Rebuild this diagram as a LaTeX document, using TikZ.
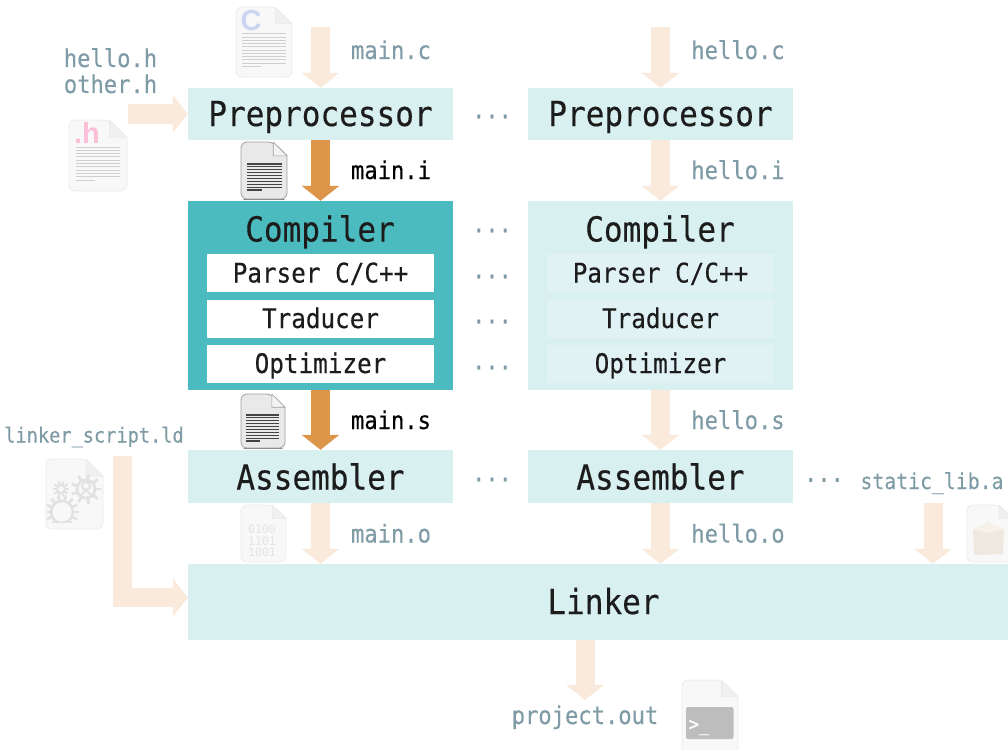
\documentclass[tikz,border=0pt]{standalone}
\usepackage{fontspec}
\usetikzlibrary{arrows.meta}
\newfontfamily\monof[FakeStretch=0.9,FakeBold=0.3]{DejaVu Sans Mono}
\newfontfamily\binf{DejaVu Sans Mono}
\newfontfamily\iconf{Liberation Sans}
\definecolor{boxlight}{HTML}{D9F0F1}
\definecolor{boxteal}{HTML}{4BBBBF}
\definecolor{sublight}{HTML}{E1F2F5}
\definecolor{arrlight}{HTML}{FAEADC}
\definecolor{arrdark}{HTML}{DC9549}
\definecolor{slate}{HTML}{7F9BA6}
\definecolor{ink}{HTML}{1C1C1C}
\definecolor{pfill}{HTML}{F8F8F8}
\definecolor{pedge}{HTML}{EBEBEB}
\definecolor{pfold}{HTML}{F0F0F0}
\definecolor{dfill}{HTML}{E9E9E9}
\definecolor{dedge}{HTML}{A0A0A0}
\definecolor{dfold}{HTML}{F3F3F3}
\definecolor{dbase}{HTML}{8C8C8C}
\definecolor{dline}{HTML}{444444}
\definecolor{pline}{HTML}{CFCFCF}
\definecolor{cblue}{HTML}{CCD5F0}
\definecolor{hpink}{HTML}{FBBFD8}
\definecolor{ptext}{HTML}{E4E4E4}
\definecolor{gearc}{HTML}{E2E2E2}
\definecolor{carton}{HTML}{EEE8DE}
\definecolor{cartonlt}{HTML}{F6F2EA}
\definecolor{term}{HTML}{BDBDBD}
\newcommand{\fsz}[1]{\monof\fontsize{#1}{#1}\selectfont}
% x0 y0 x1 y1 fill edge foldfill
\newcommand{\docicon}[7]{%
  \pgfmathsetmacro{\foldw}{0.3*(#3-#1)}%
  \draw[fill=#5,draw=#6,line width=0.8pt,rounded corners=6pt]
    (#1,#4) -- (#1,#2) -- (#3-\foldw,#2) [sharp corners] -- (#3,#2+\foldw) [rounded corners=6pt] -- (#3,#4) -- cycle;
  \draw[fill=#7,draw=#6,line width=0.6pt,line join=round]
    (#3-\foldw,#2) -- (#3,#2+\foldw) -- (#3-\foldw,#2+\foldw) -- cycle;
}
% x0 x1 xshort y0 y1 n colour width
\newcommand{\doclines}[8]{%
  \pgfmathsetmacro{\lstep}{(#5-#4)/(#6-1)}%
  \pgfmathtruncatemacro{\lastl}{#6-2}%
  \foreach \li in {0,...,\lastl}{\draw[#7,line width=#8pt] (#1,#4+\li*\lstep) -- (#2,#4+\li*\lstep);}
  \draw[#7,line width=#8pt] (#1,#5) -- (#3,#5);
}
% cx cy ring-radius tooth-outer-radius ring-width teeth
\newcommand{\geardraw}[6]{%
  \draw[gearc,line width=#5pt] (#1,#2) circle (#3);
  \pgfmathsetmacro{\gstep}{360/#6}%
  \foreach \ga in {0,\gstep,...,359}{\draw[gearc,line width=#5pt] (#1,#2) ++(\ga:#3) -- ++(\ga:#4-#3);}
}
\tikzset{
  box/.style={inner sep=0pt,text height=24pt,text depth=0pt,text=ink,align=center,font=\fsz{34.5}},
  boxasm/.style={box,text height=26pt},
  subbox/.style={inner sep=0pt,text height=19pt,text depth=0pt,text=ink,align=center,font=\fsz{27},minimum width=227pt,minimum height=38pt},
  lab/.style={anchor=base,inner sep=0pt,text=slate,font=\fsz{24.6}},
  labdark/.style={lab,text=black},
  dotsn/.style={lab},
  fat/.style={line width=19pt,arrlight,-{Triangle[width=37pt,length=15pt]}},
  fatdark/.style={fat,arrdark},
}
\begin{document}
\begin{tikzpicture}[x=1pt,y=-1pt]
\useasboundingbox (0,0) rectangle (1008,749);
\clip (0,0) rectangle (1008,749);
% column 1
\node[box,fill=boxlight,minimum width=265pt,minimum height=52pt] (pre1) at (320.5,114) {Preprocessor};
\node[fill=boxteal,inner sep=0pt,minimum width=265pt,minimum height=189pt] (comp1) at (320.5,295.5) {};
\node[lab,text=ink,font=\fsz{34.5}] (comptitle1) at (320,241.5) {Compiler};
\node[subbox,fill=white] (parse1) at (320.5,273) {Parser C/C++};
\node[subbox,fill=white] (trad1) at (320.5,318.5) {Traducer};
\node[subbox,fill=white] (opt1) at (320.5,363.5) {Optimizer};
\node[boxasm,fill=boxlight,minimum width=265pt,minimum height=53pt] (asm1) at (320.5,476.5) {Assembler};
% column 2
\node[box,fill=boxlight,minimum width=265pt,minimum height=52pt] (pre2) at (660.5,114) {Preprocessor};
\node[fill=boxlight,inner sep=0pt,minimum width=265pt,minimum height=189pt] (comp2) at (660.5,295.5) {};
\node[lab,text=ink,font=\fsz{34.5}] (comptitle2) at (660,241.5) {Compiler};
\node[subbox,fill=sublight] (parse2) at (660.5,273) {Parser C/C++};
\node[subbox,fill=sublight] (trad2) at (660.5,318.5) {Traducer};
\node[subbox,fill=sublight] (opt2) at (660.5,363.5) {Optimizer};
\node[boxasm,fill=boxlight,minimum width=265pt,minimum height=53pt] (asm2) at (660.5,476.5) {Assembler};
% linker
\node[box,fill=boxlight,minimum width=820pt,minimum height=76pt] (linker) at (598,602) {};
\node[lab,text=ink,font=\fsz{34.5}] (linkertext) at (603.5,614) {Linker};
% dots
\node[dotsn] (d1) at (492,125) {···};
\node[dotsn] (d2) at (492,239) {···};
\node[dotsn] (d3) at (492,285) {···};
\node[dotsn] (d4) at (492,330) {···};
\node[dotsn] (d5) at (492,376) {···};
\node[dotsn] (d6) at (492,488) {···};
\node[dotsn] (d7) at (824,488.5) {···};
% labels
\node[lab] (lmainc) at (391,59) {main.c};
\node[lab] (lhelloc) at (738,59) {hello.c};
\node[lab] (lhelloh) at (110.5,67) {hello.h};
\node[lab] (lotherh) at (110.5,93) {other.h};
\node[labdark] (lmaini) at (391,179) {main.i};
\node[lab] (lhelloi) at (738,179) {hello.i};
\node[labdark] (lmains) at (391,429) {main.s};
\node[lab] (lhellos) at (738,429) {hello.s};
\node[lab] (lmaino) at (391,542.5) {main.o};
\node[lab] (lhelloo) at (738,542.5) {hello.o};
\node[lab,font=\fsz{20.7}] (lscript) at (94,442.5) {linker\_script.ld};
\node[lab,font=\fsz{22}] (lstatic) at (932,489) {static\_lib.a};
\node[lab] (lproj) at (585,724) {project.out};
% connector ends
\coordinate (srcc1) at (320.5,27);
\coordinate (srcc2) at (660.5,27);
\coordinate (srch) at (128,114);
\coordinate (srcld) at (122,456);
\coordinate (inld) at (188,597.5);
\coordinate (srclib) at (933,503);
\coordinate (outp) at (585,700);
% connectors
\draw[fat] (srcc1) -- (pre1.north);
\draw[fat] (srcc2) -- (pre2.north);
\draw[fat] (srch) -- (pre1.west);
\draw[fatdark] (pre1.south) -- (comp1.north);
\draw[fat] (pre2.south) -- (comp2.north);
\draw[fatdark] (comp1.south) -- (asm1.north);
\draw[fat] (comp2.south) -- (asm2.north);
\draw[fat] (asm1.south) -- (asm1.south |- linker.north);
\draw[fat] (asm2.south) -- (asm2.south |- linker.north);
\draw[fat] (srclib) -- (srclib |- linker.north);
\draw[fat] (srcld) |- (inld);
\draw[fat] (outp |- linker.south) -- (outp);
% icon: C source
\docicon{236}{7}{292}{77}{pfill}{pedge}{pfold}
\doclines{242}{286}{261}{34}{66.5}{11}{pline}{1}
\node[inner sep=0pt,text=cblue,font=\iconf\bfseries\fontsize{29}{29}\selectfont] (iconc) at (251,20.5) {C};
% icon: header
\docicon{69}{120}{127}{191}{pfill}{pedge}{pfold}
\doclines{76}{120}{95}{147}{180}{11}{pline}{1}
\node[inner sep=0pt,text=hpink,font=\iconf\bfseries\fontsize{29}{29}\selectfont] (iconh) at (87,133) {.h};
% icon: main.i
\docicon{241}{142}{287}{199}{dfill}{dedge}{dfold}
\draw[dbase,line width=1.4pt,line cap=round] (244,199.3) -- (284,199.3);
\doclines{247}{282}{262}{164}{190}{10}{dline}{1.2}
% icon: main.s
\docicon{241}{394}{285}{448}{dfill}{dedge}{dfold}
\draw[dbase,line width=1.4pt,line cap=round] (244,448.3) -- (282,448.3);
\doclines{246}{279}{260}{415}{441}{10}{dline}{1.2}
% icon: main.o
\docicon{241}{505}{286}{562}{pfill}{pedge}{pfold}
\node[inner sep=0pt,text=ptext,font=\binf\fontsize{11.5}{11.5}\selectfont,align=center] (icono) at (262,541) {0100\\[0.2pt]1101\\[0.2pt]1001};
% icon: linker script
\docicon{46}{459}{103}{529}{pfill}{pedge}{pfold}
\begin{scope}
\clip (46,459) rectangle (103,522);
\geardraw{62}{512}{11}{17}{2.6}{14}
\end{scope}
\geardraw{86}{489}{9}{15}{2.8}{9}
\draw[gearc,line width=2pt] (86,486) circle (4);
\draw[gearc,line width=2pt] (86,490) -- (79,497);
\draw[gearc,line width=2pt] (86,490) -- (93,497);
\geardraw{61}{489}{4}{8}{2}{10}
% icon: static lib
\docicon{967}{505}{1013}{562}{pfill}{pedge}{pfold}
\fill[carton] (973,529) -- (1004,529) -- (1003,554) -- (974,555) -- cycle;
\fill[cartonlt] (973,529) -- (986,523) -- (988,520) -- (990,523) -- (1004,529) -- (988,533) -- cycle;
% icon: project.out
\docicon{682}{680}{738}{760}{pfill}{pedge}{pfold}
\fill[term,rounded corners=2pt] (686,707) rectangle (733.5,739);
\node[inner sep=0pt,text=white,font=\fsz{19}] (iconp) at (699,727.5) {>\_};
\end{tikzpicture}
\end{document}
